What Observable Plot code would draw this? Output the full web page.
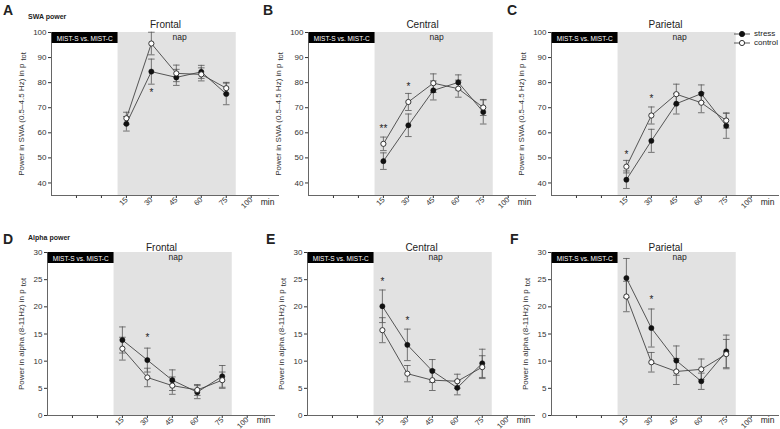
<!DOCTYPE html>
<html><head><meta charset="utf-8">
<script src="https://cdn.jsdelivr.net/npm/d3@7"></script>
<script src="https://cdn.jsdelivr.net/npm/@observablehq/plot@0.6"></script>
<style>
html,body{margin:0;padding:0;background:#fff;}
#fig{position:relative;width:780px;height:429px;overflow:hidden;font-family:"Liberation Sans",Arial,sans-serif;color:#222;}
.panel{position:absolute;}
.letter{position:absolute;font-weight:bold;font-size:14px;line-height:14px;}
.rowtitle{position:absolute;font-weight:bold;font-size:7px;line-height:8px;}
.legend{position:absolute;font-size:8px;line-height:8px;}
</style></head><body><div id="fig"></div>
<script>
// ---------- data ----------
const minutes = [15, 30, 45, 60, 75];
const xTickValues = [-15, 0, 15, 30, 45, 60, 75, 90];
const xTickLabels = ["", "", "15", "30", "45", "60", "75", "100"];
const xDomain = [-30, 107];
const napStart = 10, napEnd = 81;
const swaTicks = [40, 50, 60, 70, 80, 90, 100];
const swaDomain = [35, 100];
const alphaTicks = [0, 5, 10, 15, 20, 25, 30];
const alphaDomain = [0, 30];
const seriesNames = ["stress", "control"];
const regions = ["Frontal", "Central", "Parietal"];
const boxLabel = "MIST-S vs. MIST-C";
const napLabel = "nap";
const swaLabel = "Power in SWA (0.5\u20134.5 Hz) in p";
const alphaLabel = "Power in alpha (8-11Hz) in p";

const swaFrontalStress = [63.6, 84.4, 82.1, 84.3, 75.5];
const swaFrontalStressSE = [2.9, 5.0, 3.2, 2.6, 4.3];
const swaFrontalControl = [65.8, 95.6, 83.7, 83.3, 77.8];
const swaFrontalControlSE = [2.4, 4.5, 3.3, 2.6, 2.3];

const swaCentralStress = [48.7, 63.0, 76.9, 80.1, 68.3];
const swaCentralStressSE = [3.3, 4.5, 3.8, 3.0, 4.8];
const swaCentralControl = [55.6, 72.3, 79.8, 77.6, 70.1];
const swaCentralControlSE = [2.7, 3.4, 3.7, 3.4, 3.2];

const swaParietalStress = [41.3, 56.8, 71.6, 75.6, 62.8];
const swaParietalStressSE = [3.5, 4.6, 4.1, 3.5, 5.0];
const swaParietalControl = [46.5, 66.9, 75.4, 72.0, 64.9];
const swaParietalControlSE = [2.5, 3.4, 4.0, 4.0, 3.0];

const alphaFrontalStress = [13.9, 10.2, 6.5, 4.3, 7.2];
const alphaFrontalStressSE = [2.4, 2.2, 1.9, 1.2, 2.0];
const alphaFrontalControl = [12.3, 7.0, 5.5, 4.7, 6.5];
const alphaFrontalControlSE = [2.1, 1.7, 1.6, 1.0, 1.5];

const alphaCentralStress = [20.1, 13.0, 8.2, 5.1, 9.6];
const alphaCentralStressSE = [3.0, 2.9, 2.1, 1.3, 2.6];
const alphaCentralControl = [15.7, 7.7, 6.5, 6.3, 8.9];
const alphaCentralControlSE = [2.3, 1.5, 1.9, 1.3, 2.1];

const alphaParietalStress = [25.3, 16.1, 10.1, 6.3, 11.8];
const alphaParietalStressSE = [3.6, 3.5, 2.7, 1.5, 3.0];
const alphaParietalControl = [21.9, 9.8, 8.1, 8.5, 11.3];
const alphaParietalControlSE = [2.8, 1.8, 2.4, 1.9, 2.7];

// significance markers: minute, height (value), label
const sigSwaFrontal = {minute: [30], value: [76.7], label: ["*"]};
const sigSwaCentral = {minute: [15, 30], value: [62.4, 79.2], label: ["**", "*"]};
const sigSwaParietal = {minute: [15, 30], value: [52.2, 74.3], label: ["*", "*"]};
const sigAlphaFrontal = {minute: [30], value: [14.7], label: ["*"]};
const sigAlphaCentral = {minute: [15, 30], value: [24.9, 17.8], label: ["*", "*"]};
const sigAlphaParietal = {minute: [30], value: [21.6], label: ["*"]};

// ---------- layout ----------
const W = 290, H = 229, ML = 52, MR = 10, MT = 32, MB = 34;
const plotH = H - MT - MB;
const boxPx = 11;
const FONT = "'Liberation Sans', Arial, sans-serif";

const capSymbol = {draw(ctx, size) { const w = Math.sqrt(size / Math.PI); ctx.moveTo(-w, 0); ctx.lineTo(w, 0); }};

function panel(cfg) {
  const mk = (name, vals, ses) => minutes.map((m, i) => ({group: name, minute: m, value: vals[i], se: ses[i]}));
  const stressRows = mk(seriesNames[0], cfg.stress, cfg.stressSE);
  const controlRows = mk(seriesNames[1], cfg.control, cfg.controlSE);
  const rows = stressRows.concat(controlRows);
  const [y0, y1] = cfg.yDomain;
  const boxBottom = y1 - (y1 - y0) * boxPx / plotH;
  const sig = cfg.sig.minute.map((m, i) => ({minute: m, value: cfg.sig.value[i], label: cfg.sig.label[i]}));
  const chart = Plot.plot({
    width: W, height: H, marginLeft: ML, marginRight: MR, marginTop: MT, marginBottom: MB,
    x: {domain: xDomain},
    y: {domain: cfg.yDomain},
    style: {fontFamily: FONT, fontSize: "8px", background: "transparent", overflow: "visible", color: "#333"},
    marks: [
      Plot.rect([0], {x1: napStart, x2: napEnd, y1: y0, y2: y1, fill: "#e2e2e2"}),
      Plot.rect([0], {x1: xDomain[0], x2: napStart, y1: boxBottom, y2: y1, fill: "#000"}),
      Plot.text([boxLabel], {x: (xDomain[0] + napStart) / 2, y: (boxBottom + y1) / 2, fill: "white", fontSize: 8, dy: 0.5}),
      Plot.text([napLabel], {x: (napStart + napEnd) / 2 + 1.5, y: y1, lineAnchor: "top", dy: 1.5, fontSize: 8.5, fill: "#222"}),
      Plot.text([cfg.title], {frameAnchor: "top", dy: cfg.titleDy, fontSize: 10, fill: "#222", lineAnchor: "middle"}),
      Plot.text(["min"], {frameAnchor: "bottom-right", textAnchor: "middle", lineAnchor: "top", dx: -12, dy: cfg.minDy, fontSize: 8.5, fill: "#222"}),
      Plot.axisY({ticks: cfg.yTicks, tickSize: 3, tickPadding: 2, fontSize: 8, color: "#333", label: cfg.yLabel, labelAnchor: "center", labelArrow: "none", labelOffset: cfg.labelOffset}),
      Plot.axisX({ticks: xTickValues, tickFormat: d => xTickLabels[xTickValues.indexOf(d)], tickRotate: -45, tickSize: 3, tickPadding: 0, fontSize: 7.5, color: "#333", label: null}),
      Plot.ruleX([xDomain[0]], {y1: y0, y2: y1, stroke: "#555", strokeWidth: 0.9}),
      Plot.ruleY([y0], {x1: xDomain[0], x2: xDomain[1], stroke: "#555", strokeWidth: 0.9}),
      Plot.ruleX(rows, {x: "minute", y1: d => d.value - d.se, y2: d => d.value + d.se, stroke: "#555", strokeWidth: 0.8}),
      Plot.dot(rows, {x: "minute", y: d => d.value + d.se, symbol: capSymbol, r: 3.3, fill: "none", stroke: "#555", strokeWidth: 0.8}),
      Plot.dot(rows, {x: "minute", y: d => d.value - d.se, symbol: capSymbol, r: 3.3, fill: "none", stroke: "#555", strokeWidth: 0.8}),
      Plot.line(stressRows, {x: "minute", y: "value", stroke: "#444", strokeWidth: 0.9}),
      Plot.line(controlRows, {x: "minute", y: "value", stroke: "#444", strokeWidth: 0.9}),
      Plot.dot(stressRows, {x: "minute", y: "value", r: 2.6, fill: "#111", stroke: "#111", strokeWidth: 0.5}),
      Plot.dot(controlRows, {x: "minute", y: "value", r: 2.6, fill: "white", stroke: "#222", strokeWidth: 0.9}),
      Plot.text(sig, {x: "minute", y: "value", text: "label", fontSize: 10, dy: 2, fill: "#222"})
    ]
  });
  const lab = chart.querySelector('g[aria-label="y-axis label"] text');
  if (lab) {
    const t = document.createElementNS("http://www.w3.org/2000/svg", "tspan");
    t.setAttribute("dx", "3"); t.setAttribute("dy", "2"); t.setAttribute("font-size", "7.5");
    t.textContent = "tot";
    lab.appendChild(t);
  }
  chart.querySelectorAll("text").forEach(el => {
    if (el.textContent === boxLabel) {
      el.setAttribute("textLength", "56");
      el.setAttribute("lengthAdjust", "spacingAndGlyphs");
    }
  });
  const div = document.createElement("div");
  div.className = "panel";
  div.style.left = cfg.left + "px"; div.style.top = cfg.top + "px";
  div.style.width = W + "px"; div.style.height = H + "px";
  div.appendChild(chart);
  return div;
}

const fig = document.getElementById("fig");
const topRow = {yDomain: swaDomain, yTicks: swaTicks, yLabel: swaLabel, top: 0, titleDy: -8, minDy: 3, labelOffset: 33};
const botRow = {yDomain: alphaDomain, yTicks: alphaTicks, yLabel: alphaLabel, top: 220, titleDy: -5, minDy: 1, labelOffset: 29};
const panels = [
  {...topRow, left: -1, title: regions[0], stress: swaFrontalStress, stressSE: swaFrontalStressSE, control: swaFrontalControl, controlSE: swaFrontalControlSE, sig: sigSwaFrontal},
  {...topRow, left: 256, title: regions[1], stress: swaCentralStress, stressSE: swaCentralStressSE, control: swaCentralControl, controlSE: swaCentralControlSE, sig: sigSwaCentral},
  {...topRow, left: 499, title: regions[2], stress: swaParietalStress, stressSE: swaParietalStressSE, control: swaParietalControl, controlSE: swaParietalControlSE, sig: sigSwaParietal},
  {...botRow, left: -5, title: regions[0], stress: alphaFrontalStress, stressSE: alphaFrontalStressSE, control: alphaFrontalControl, controlSE: alphaFrontalControlSE, sig: sigAlphaFrontal},
  {...botRow, left: 255, title: regions[1], stress: alphaCentralStress, stressSE: alphaCentralStressSE, control: alphaCentralControl, controlSE: alphaCentralControlSE, sig: sigAlphaCentral},
  {...botRow, left: 499, title: regions[2], stress: alphaParietalStress, stressSE: alphaParietalStressSE, control: alphaParietalControl, controlSE: alphaParietalControlSE, sig: sigAlphaParietal}
];
panels.forEach(p => fig.appendChild(panel(p)));

// panel letters and row titles
const letters = [["A", 3, 3], ["B", 263, 3], ["C", 507, 3], ["D", 3, 232], ["E", 266, 232], ["F", 510, 232]];
letters.forEach(([t, x, y]) => {
  const d = document.createElement("div"); d.className = "letter"; d.textContent = t;
  d.style.left = x + "px"; d.style.top = y + "px"; fig.appendChild(d);
});
[["SWA power", 28, 13], ["Alpha power", 28, 234]].forEach(([t, x, y]) => {
  const d = document.createElement("div"); d.className = "rowtitle"; d.textContent = t;
  d.style.left = x + "px"; d.style.top = y + "px"; fig.appendChild(d);
});

// legend (panel C)
const leg = document.createElement("div");
leg.className = "legend"; leg.style.left = "733px"; leg.style.top = "30px";
leg.innerHTML = seriesNames.map((n, i) =>
  `<div style="display:flex;align-items:center;height:8.5px;">` +
  `<svg width="20" height="8"><line x1="1" x2="17" y1="4" y2="4" stroke="#444" stroke-width="0.9"/>` +
  `<circle cx="9" cy="4" r="2.6" fill="${i === 0 ? "#111" : "white"}" stroke="${i === 0 ? "#111" : "#222"}" stroke-width="0.9"/></svg>` +
  `<span style="margin-left:1px">${n}</span></div>`).join("");
fig.appendChild(leg);
</script></body></html>
